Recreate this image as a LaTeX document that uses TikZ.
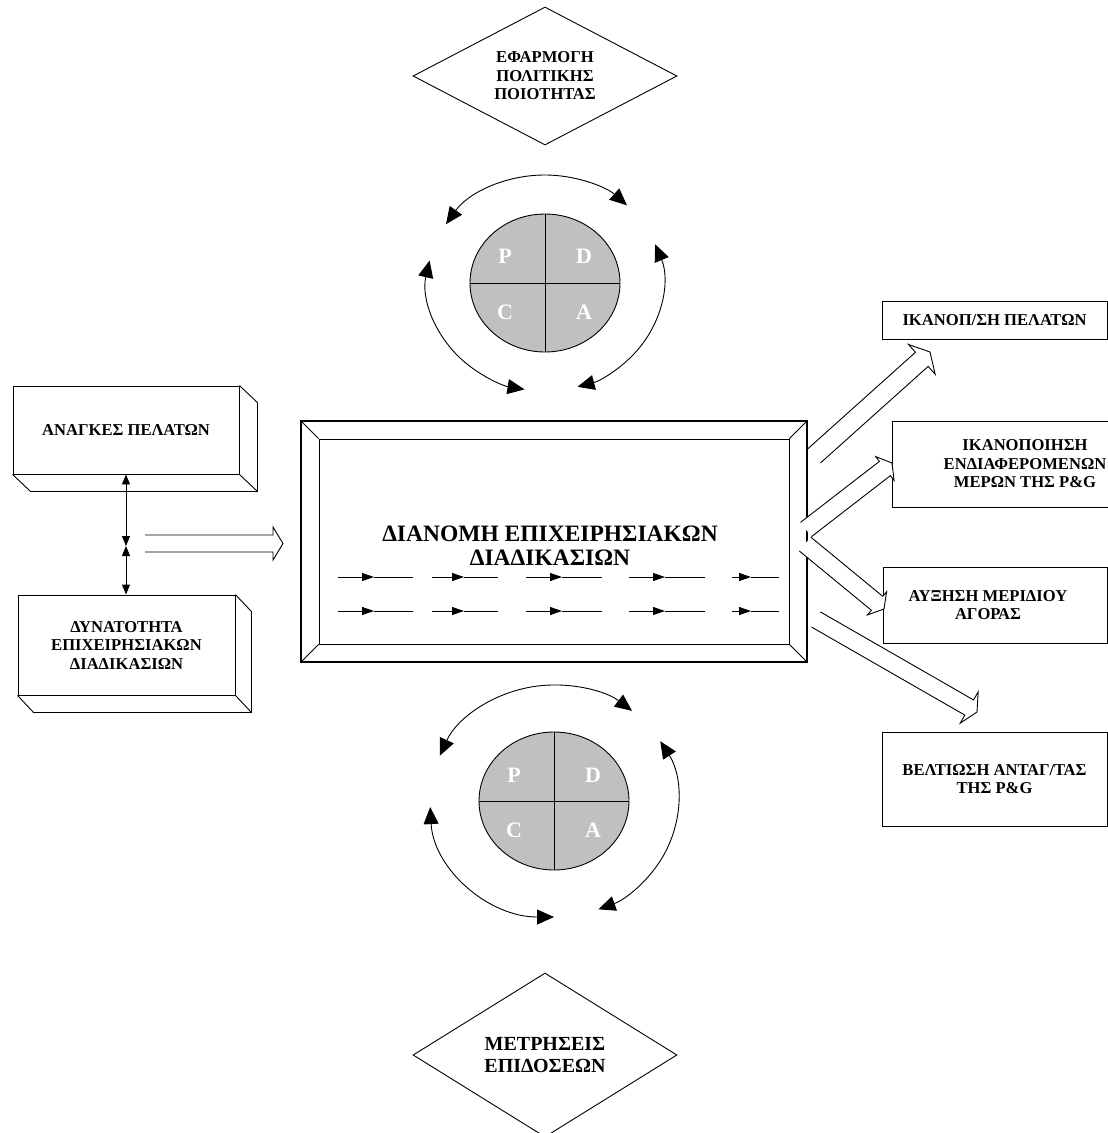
\documentclass[tikz,border=0pt]{standalone}
\usepackage{fontspec}
\setmainfont{Liberation Serif}
\usetikzlibrary{arrows.meta,calc,shapes.geometric}

\definecolor{pdcagray}{RGB}{192,192,192}

% open-tailed block arrow: #1 tail centre, #2 tip, #3 half shaft width,
% #4 half head width, #5 head length
\newcommand{\hollowarrow}[5]{%
  \coordinate (ba-n) at ($(#2)!#5!(#1)$);
  \coordinate (ba-1) at ($(#1)!#3!90:(#2)$);
  \coordinate (ba-2) at ($(ba-n)!#3!90:(#2)$);
  \coordinate (ba-3) at ($(ba-n)!#4!90:(#2)$);
  \coordinate (ba-4) at ($(ba-n)!#4!-90:(#2)$);
  \coordinate (ba-5) at ($(ba-n)!#3!-90:(#2)$);
  \coordinate (ba-6) at ($(#1)!#3!-90:(#2)$);
  \fill[white] (ba-1) -- (ba-2) -- (ba-3) -- (#2) -- (ba-4) -- (ba-5) -- (ba-6) -- cycle;
  \draw[line join=miter] (ba-1) -- (ba-2) -- (ba-3) -- (#2) -- (ba-4) -- (ba-5) -- (ba-6);
}

\begin{document}
\begin{tikzpicture}[x=1pt,y=-1pt,line width=0.9pt,
  small/.style={font=\bfseries\fontsize{16.6}{18.5}\selectfont, align=center},
  big/.style={font=\bfseries\fontsize{23.5}{24}\selectfont, align=center},
  mid/.style={font=\bfseries\fontsize{20}{21.5}\selectfont, align=center},
  letter/.style={font=\bfseries\fontsize{22}{22}\selectfont, text=white, inner sep=0pt},
  boxnode/.style={draw, inner sep=0pt, small},
  decision/.style={diamond, draw, inner sep=0pt},
  disc/.style={ellipse, draw, fill=pdcagray, inner sep=0pt, minimum width=150pt, minimum height=138pt},
  cyclearrow/.style={{Triangle[length=17pt,width=15pt]}-{Triangle[length=17pt,width=15pt]}},
  flowarrow/.style={-{Triangle[length=12pt,width=8pt]}},
  linkarrow/.style={{Triangle[length=10pt,width=8pt]}-{Triangle[length=10pt,width=8pt]}}]

\useasboundingbox (0,0) rectangle (1108,1133);
\clip (0,0) rectangle (1108,1133);

% ---------- decisions ----------
\node[decision, minimum width=264pt, minimum height=138pt] (policy) at (545,76) {};
\node[small] (policyt) at (545,76) {ΕΦΑΡΜΟΓΗ\\ΠΟΛΙΤΙΚΗΣ\\ΠΟΙΟΤΗΤΑΣ};

\node[decision, minimum width=264pt, minimum height=164pt] (measure) at (545,1055) {};
\node[mid] (measuret) at (545,1055) {ΜΕΤΡΗΣΕΙΣ\\ΕΠΙΔΟΣΕΩΝ};

% ---------- PDCA discs ----------
\node[disc] (pdca1) at (545,283) {};
\draw (pdca1.north) -- (pdca1.south) (pdca1.west) -- (pdca1.east);
\node[letter] (p1) at ($(pdca1.center)+(-40,-27)$) {P};
\node[letter] (d1) at ($(pdca1.center)+(39,-27)$) {D};
\node[letter] (c1) at ($(pdca1.center)+(-40,29)$) {C};
\node[letter] (a1) at ($(pdca1.center)+(39,29)$) {A};

\draw[cyclearrow] ($(pdca1.center)+(-147:118 and 108)$) arc[start angle=-147, end angle=-46, x radius=118, y radius=108];
\draw[cyclearrow] ($(pdca1.center)+(-168:118 and 108)$) arc[start angle=-168, end angle=-260, x radius=118, y radius=108];
\draw[cyclearrow] ($(pdca1.center)+(-21:118 and 108)$) arc[start angle=-21, end angle=74, x radius=118, y radius=108];

\node[disc] (pdca2) at (554,801) {};
\draw (pdca2.north) -- (pdca2.south) (pdca2.west) -- (pdca2.east);
\node[letter] (p2) at ($(pdca2.center)+(-40,-26)$) {P};
\node[letter] (d2) at ($(pdca2.center)+(39,-26)$) {D};
\node[letter] (c2) at ($(pdca2.center)+(-40,29)$) {C};
\node[letter] (a2) at ($(pdca2.center)+(39,29)$) {A};

\draw[cyclearrow] ($(pdca2.center)+(-157:124 and 116)$) arc[start angle=-157, end angle=-51, x radius=124, y radius=116];
\draw[cyclearrow] ($(pdca2.center)+(-183:124 and 116)$) arc[start angle=-183, end angle=-270, x radius=124, y radius=116];
\draw[cyclearrow] ($(pdca2.center)+(-31:124 and 116)$) arc[start angle=-31, end angle=69, x radius=124, y radius=116];

% ---------- left 3-D boxes ----------
\node[boxnode, minimum width=226pt, minimum height=88pt] (needs) at (126,430) {ΑΝΑΓΚΕΣ ΠΕΛΑΤΩΝ};
\draw (needs.north east) -- ++(18,17) -- ($(needs.south east)+(18,17)$) -- ($(needs.south west)+(18,17)$) -- (needs.south west);
\draw (needs.south east) -- ++(18,17);

\node[boxnode, minimum width=217pt, minimum height=100pt] (ability) at (126.5,645) {ΔΥΝΑΤΟΤΗΤΑ\\ΕΠΙΧΕΙΡΗΣΙΑΚΩΝ\\ΔΙΑΔΙΚΑΣΙΩΝ};
\draw (ability.north east) -- ++(16,17) -- ($(ability.south east)+(16,17)$) -- ($(ability.south west)+(16,17)$) -- (ability.south west);
\draw (ability.south east) -- ++(16,17);

\coordinate (meet) at (126,546);
\draw[linkarrow] (needs.south -| meet) -- (meet);
\draw[linkarrow] (meet) -- (ability.north -| meet);

% ---------- central bevelled box ----------
\node[draw, line width=1.2pt, minimum width=506pt, minimum height=241pt, inner sep=0pt] (core) at (554,541.5) {};
\node[draw, minimum width=470pt, minimum height=205pt, inner sep=0pt] (corein) at (554,541.5) {};
\draw (core.north west) -- (corein.north west) (core.north east) -- (corein.north east)
      (core.south west) -- (corein.south west) (core.south east) -- (corein.south east);
\node[big] (coret) at (550,546) {ΔΙΑΝΟΜΗ ΕΠΙΧΕΙΡΗΣΙΑΚΩΝ\\ΔΙΑΔΙΚΑΣΙΩΝ};

\foreach \r/\y in {1/577,2/611}{
  \foreach \k/\s/\t/\e in {1/338/374/413, 2/432/464/498, 3/526/562/602, 4/629/665/705, 5/732/751/779}{
    \coordinate (s\r\k) at (\s,\y);
    \coordinate (t\r\k) at (\t,\y);
    \coordinate (e\r\k) at (\e,\y);
    \draw[flowarrow] (s\r\k) -- (t\r\k);
    \draw (t\r\k) -- (e\r\k);
  }
}

% ---------- input block arrow ----------
\coordinate (inT) at (145,543.5);
\coordinate (inH) at (283,543.5);
\hollowarrow{inT}{inH}{8.5pt}{16.5pt}{10pt}

% ---------- right result boxes ----------
\node[boxnode, minimum width=225pt, minimum height=38pt] (r1) at (994.5,320) {ΙΚΑΝΟΠ/ΣΗ ΠΕΛΑΤΩΝ};
\node[boxnode, minimum width=266pt, minimum height=86pt] (r2) at (1025,464) {ΙΚΑΝΟΠΟΙΗΣΗ\\ΕΝΔΙΑΦΕΡΟΜΕΝΩΝ\\ΜΕΡΩΝ ΤΗΣ P\&G};
\node[boxnode, minimum width=224pt, minimum height=76pt] (r3) at (995,605) {};
\node[small] (r3t) at (988,605) {ΑΥΞΗΣΗ ΜΕΡΙΔΙΟΥ\\ΑΓΟΡΑΣ};
\node[boxnode, minimum width=225pt, minimum height=94pt] (r4) at (994.5,779) {ΒΕΛΤΙΩΣΗ ΑΝΤΑΓ/ΤΑΣ\\ΤΗΣ P\&G};

% ---------- output block arrows ----------
\coordinate (o1T) at (814,456);   \coordinate (o1H) at (930,352);
\coordinate (o2T) at (806,529.5); \coordinate (o2H) at (892,463);
\coordinate (o3T) at (805,544);   \coordinate (o3H) at (884,609);
\coordinate (o4T) at (816,619.5); \coordinate (o4H) at (977,712);
\hollowarrow{o1T}{o1H}{9.5pt}{20pt}{11pt}
\hollowarrow{o3T}{o3H}{9pt}{15pt}{9pt}
\hollowarrow{o2T}{o2H}{9pt}{15pt}{9pt}
\hollowarrow{o4T}{o4H}{8.75pt}{18pt}{9pt}

\end{tikzpicture}
\end{document}
